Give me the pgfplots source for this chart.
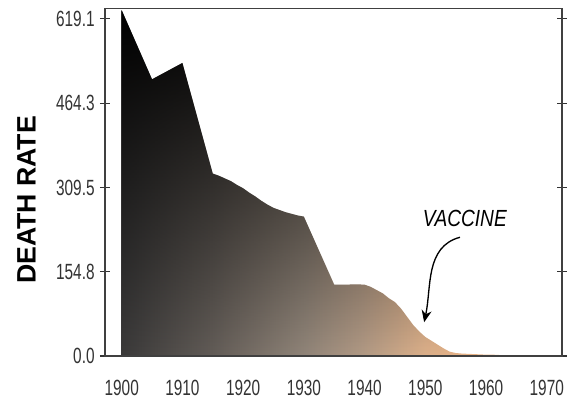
\documentclass[border=0pt]{standalone}
\usepackage{pgfplots}
\pgfplotsset{compat=1.18}
\usetikzlibrary{arrows.meta,fadings}
\usepackage{fontspec}
\setmainfont{Liberation Sans}
\newfontfamily\condfont[FakeStretch=0.7]{Liberation Sans}
\newfontfamily\vacfont[FakeStretch=0.82]{Liberation Sans}
\definecolor{h0}{HTML}{3B3A3A}
\definecolor{h1}{HTML}{625C57}
\definecolor{h2}{HTML}{918579}
\definecolor{h3}{HTML}{B29A85}
\definecolor{h4}{HTML}{DCB08A}
\definecolor{h5}{HTML}{ECB587}
\definecolor{h6}{HTML}{EEB789}
% the path's bounding box maps to 25bp..75bp of the shading
\pgfdeclarehorizontalshading{hshade}{100bp}{color(0bp)=(h0); color(25bp)=(h0); color(36.5bp)=(h1); color(48.5bp)=(h2); color(56bp)=(h3); color(64bp)=(h4); color(71bp)=(h5); color(75bp)=(h6); color(100bp)=(h6)}
\tikzfading[name=vfade, top color=transparent!0, middle color=transparent!72, bottom color=transparent!100]
\pgfplotstableread{
year rate
1900 635
1905 508
1910 538
1915 335
1916 331
1917 326
1918 321
1919 314
1920 308
1921 300
1922 293
1923 285
1924 278
1925 272
1926 268
1927 264
1928 261
1929 258
1930 256
1935 131
1936 131
1937 131
1938 131.5
1939 131.5
1940 131
1941 127
1942 121
1943 115
1944 106
1945 99
1946 87
1947 72
1948 57
1949 45
1950 35
1951 28
1952 21
1953 14
1954 8
1955 5.5
1956 4.5
1957 4
1958 3.5
1959 3
1960 2.5
1961 2.5
1962 2
1963 1
1964 0
}\deathdata
\begin{document}
\begin{tikzpicture}
\path[use as bounding box] (-78.75pt,-33pt) rectangle (348.75pt,267pt);
\begin{axis}[
  scale only axis, width=342.75pt, height=260.6pt,
  xmin=1897.25, xmax=1972.5, ymin=0, ymax=638,
  xtick={1900,1910,1920,1930,1940,1950,1960,1970},
  xticklabels={1900,1910,1920,1930,1940,1950,1960,1970},
  xtick style={draw=none},
  ytick={0,154.8,309.5,464.3,619.1},
  yticklabels={0.0,154.8,309.5,464.3,619.1},
  tick label style={font=\condfont\fontsize{16.5}{18}\selectfont, text=black!80},
  xticklabel shift=11pt, yticklabel shift=0.5pt,
  tick align=center, major tick length=7.5pt,
  ytick style={black!80, line width=0.8pt},
  axis line style={black!75, line width=0.9pt},
  axis on top,
  ylabel={DEATH RATE},
  ylabel style={at={(axis description cs:-0.1718,0.449)}, anchor=center, font=\bfseries\fontsize{20}{24}\selectfont},
]
\addplot[draw=none, shade, shading=hshade, shading angle=0] table[x=year, y=rate] {\deathdata} \closedcycle;
\addplot[draw=none, fill=black, path fading=vfade] table[x=year, y=rate] {\deathdata} \closedcycle;
\node[font=\vacfont\itshape\fontsize{17.5}{20}\selectfont] at (axis cs:1956.5,252) {VACCINE};
\draw[line width=1pt, -{Stealth[length=9pt,width=7.5pt]}] (axis cs:1955.7,218) to[out=195,in=78] (axis cs:1949.8,62);
\end{axis}
\end{tikzpicture}
\end{document}
